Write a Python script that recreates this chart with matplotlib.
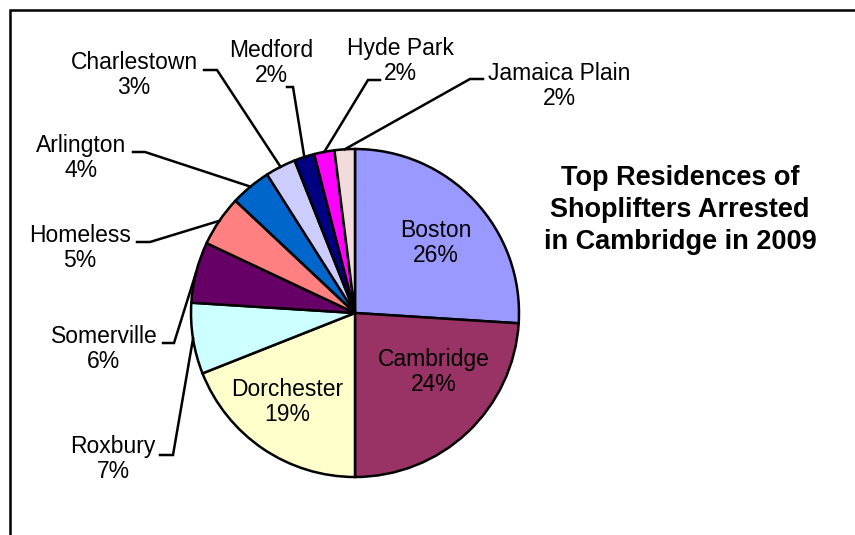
import numpy as np
import matplotlib
matplotlib.use('Agg')
import matplotlib.pyplot as plt
from matplotlib.patches import Rectangle

plt.rcParams['font.family'] = ['Liberation Sans', 'DejaVu Sans']

# shoplifter residences, percent of arrests
places = ["Boston", "Cambridge", "Dorchester", "Roxbury", "Somerville", "Homeless",
          "Arlington", "Charlestown", "Medford", "Hyde Park", "Jamaica Plain"]
shares = [26, 24, 19, 7, 6, 5, 4, 3, 2, 2, 2]
colors = ["#9999FF", "#993366", "#FFFFCC", "#CCFFFF", "#660066", "#FF8080",
          "#0066CC", "#CCCCFF", "#000080", "#FF00FF", "#F2DCDB"]

W, H = 855, 535
CX, CY, R = 355, 313, 164  # pie centre and radius in pixels


def px(x, y):
    # pixel position -> data units (pie radius = 1)
    return (x - CX) / R, (CY - y) / R


fig = plt.figure(figsize=(W / 100, H / 100), dpi=100)
ax = fig.add_axes([0, 0, 1, 1])
wedges, _ = ax.pie(shares, colors=colors, startangle=90, counterclock=False,
                   radius=1, wedgeprops=dict(edgecolor='black', linewidth=1.8))
ax.set_xlim(-CX / R, (W - CX) / R)
ax.set_ylim((CY - H) / R, CY / R)
ax.set_aspect('auto')
ax.axis('off')

lab = "{}\n{}%"
fs = 16.5

# labels inside the big slices
inside = {"Boston": (436, 243), "Cambridge": (434, 372), "Dorchester": (287, 402)}

# outside labels: text centre, start of leader, elbow
outside = {
    "Roxbury": ((113, 459), (160, 455), (173, 455)),
    "Somerville": ((104, 349), (163, 343), (174, 343)),
    "Homeless": ((80, 248), (137, 242), (150, 242)),
    "Arlington": ((81, 158), (133, 152), (145, 152)),
    "Charlestown": ((134, 75), (204, 70), (217, 70)),
    "Medford": ((271, 63), (287, 87), (293, 87)),
    "Hyde Park": ((400, 61), (380, 80), (368, 80)),
    "Jamaica Plain": ((559, 86), (483, 79), (470, 79)),
}

for w, name, val in zip(wedges, places, shares):
    if name in inside:
        ax.text(*px(*inside[name]), lab.format(name, val), ha='center', va='center',
                fontsize=fs, linespacing=1.15)
        continue
    tpos, p0, p1 = outside[name]
    ax.text(*px(*tpos), lab.format(name, val), ha='center', va='center',
            fontsize=fs, linespacing=1.15)
    mid = np.deg2rad((w.theta1 + w.theta2) / 2)
    ex, ey = np.cos(mid), np.sin(mid)
    a, b = px(*p0), px(*p1)
    ax.plot([a[0], b[0], ex], [a[1], b[1], ey], color='black', lw=1.8,
            solid_joinstyle='miter')

ax.text(*px(680, 210), "Top Residences of\nShoplifters Arrested\nin Cambridge in 2009",
        ha='center', va='center', fontsize=19.5, fontweight='bold', linespacing=1.32)

# chart border
fig.patches.append(Rectangle((10 / W, -0.1), 2, 1.1 - 10 / H, transform=fig.transFigure,
                             fill=False, edgecolor='black', linewidth=1.8))

fig.savefig("out.png", dpi=100)
